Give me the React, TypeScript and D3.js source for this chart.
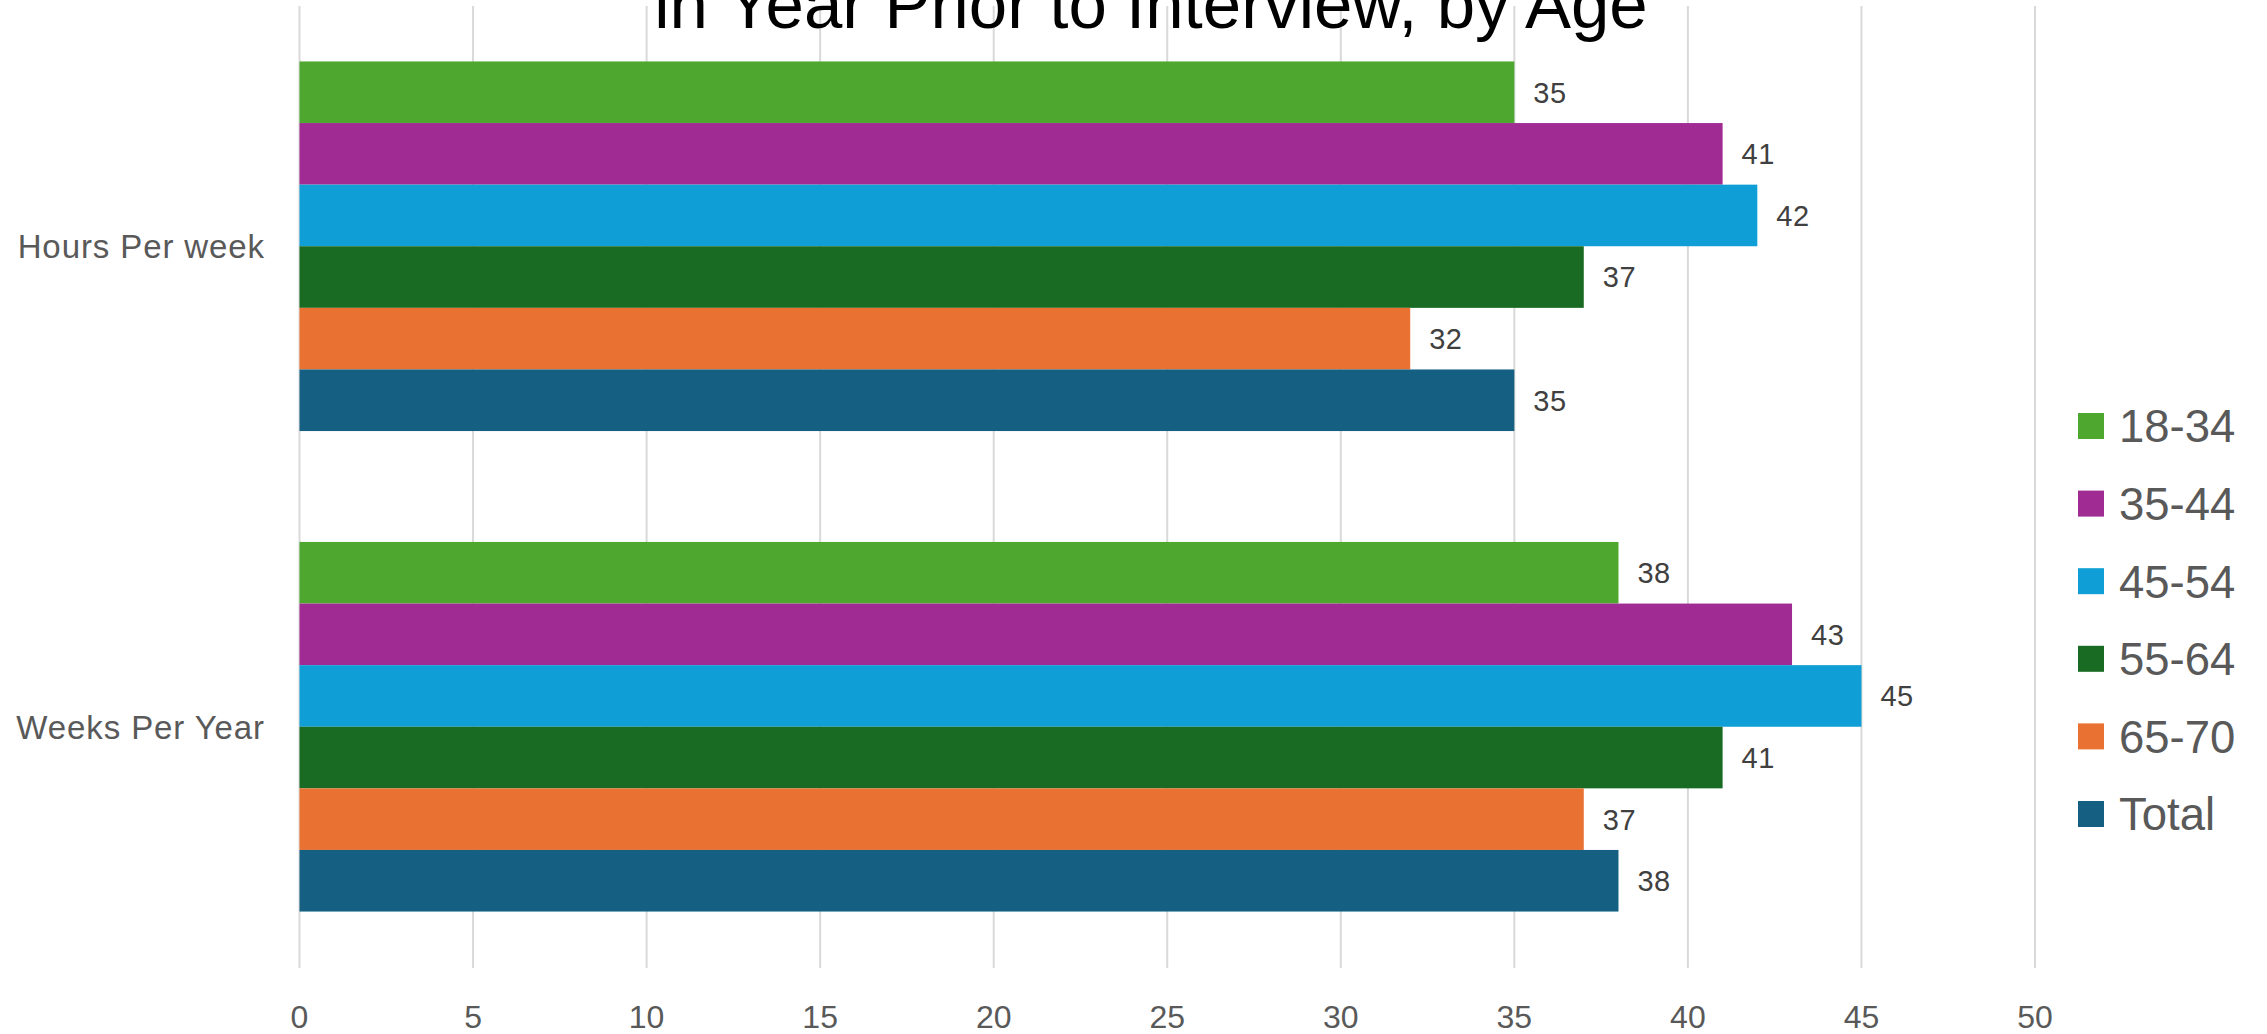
import React from "react";
import * as d3 from "d3";

const categories = ["Hours Per week", "Weeks Per Year"];
const seriesNames = ["18-34", "35-44", "45-54", "55-64", "65-70", "Total"];
const seriesColors = ["#4EA72E", "#A02B93", "#0F9ED5", "#196B24", "#E97132", "#156082"];
const hoursValues = [35, 41, 42, 37, 32, 35];
const weeksValues = [38, 43, 45, 41, 37, 38];
const xTicks = [0, 5, 10, 15, 20, 25, 30, 35, 40, 45, 50];
const titleText = "in Year Prior to Interview, by Age";

const W = 2267;
const H = 1034;
const FONT = "'Liberation Sans', Arial, sans-serif";

export default function App() {
  const values = [hoursValues, weeksValues];
  const x = d3.scaleLinear().domain([0, 50]).range([299.5, 2035]);
  const y = d3
    .scaleBand<string>()
    .domain(categories)
    .range([6, 967])
    .paddingInner(0.2308)
    .paddingOuter(0.1154);
  const inner = d3
    .scaleBand<string>()
    .domain(seriesNames)
    .range([0, y.bandwidth()])
    .padding(0);
  const gridTop = 6;
  const gridBottom = 968;

  return (
    <svg
      width={W}
      height={H}
      style={{ position: "absolute", left: 0, top: 0, background: "#fff" }}
      fontFamily={FONT}
    >
      <rect x={0} y={0} width={W} height={H} fill="#fff" />
      {xTicks.map((t) => (
        <line
          key={"g" + t}
          x1={x(t)}
          x2={x(t)}
          y1={gridTop}
          y2={gridBottom}
          stroke="#d9d9d9"
          strokeWidth={2}
        />
      ))}
      {categories.map((c, ci) => (
        <g key={c}>
          {seriesNames.map((s, si) => {
            const v = values[ci][si];
            const y0 = (y(c) as number) + (inner(s) as number);
            const bh = inner.bandwidth();
            return (
              <g key={s}>
                <rect
                  x={x(0)}
                  y={y0}
                  width={x(v) - x(0)}
                  height={bh}
                  fill={seriesColors[si]}
                />
                <text
                  x={x(v) + 19}
                  y={y0 + bh / 2}
                  dy="0.36em"
                  fontSize={29}
                  letterSpacing={0.5}
                  fill="#404040"
                >
                  {v}
                </text>
              </g>
            );
          })}
          <text
            x={265}
            y={(y(c) as number) + y.bandwidth() / 2}
            dy="0.36em"
            textAnchor="end"
            fontSize={33}
            letterSpacing={0.9}
            fill="#595959"
          >
            {c}
          </text>
        </g>
      ))}
      {xTicks.map((t) => (
        <text
          key={"t" + t}
          x={x(t)}
          y={1028}
          textAnchor="middle"
          fontSize={32}
          fill="#595959"
        >
          {t}
        </text>
      ))}
      {seriesNames.map((s, i) => {
        const cy = 426 + i * 77.6;
        return (
          <g key={"l" + s}>
            <rect x={2078} y={cy - 13} width={26} height={26} fill={seriesColors[i]} />
            <text x={2119} y={cy} dy="0.36em" fontSize={45.5} fill="#595959">
              {s}
            </text>
          </g>
        );
      })}
      <text x={1151} y={28} textAnchor="middle" fontSize={69} fill="#000">
        {titleText}
      </text>
    </svg>
  );
}
